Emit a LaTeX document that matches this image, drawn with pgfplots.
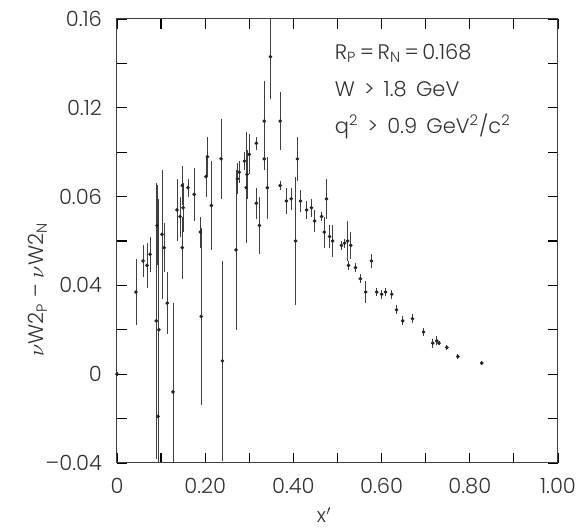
\documentclass[border=0pt]{standalone}
\usepackage{fontspec}
\IfFontExistsTF{Poppins Light}{\setmainfont{Poppins Light}}{\setmainfont{Poppins}}
\usepackage{pgfplots}
\pgfplotsset{compat=1.18}
\usepackage{pgfplotstable}

% x', nuW2p - nuW2n, error
\pgfplotstableread{
x      y       e
0.000  0.000   0.001
0.043  0.037   0.015
0.059  0.051   0.007
0.068  0.049   0.010
0.075  0.054   0.008
0.089  0.024   0.062
0.091  0.067   0.018
0.093  -0.019  0.030
0.095  0.020   0.059
0.102  0.063   0.029
0.107  0.057   0.011
0.114  0.032   0.014
0.127  -0.008  0.040
0.136  0.074   0.014
0.143  0.071   0.009
0.148  0.085   0.009
0.150  0.075   0.011
0.148  0.057   0.014
0.161  0.084   0.004
0.175  0.081   0.012
0.189  0.064   0.007
0.191  0.026   0.040
0.205  0.098   0.009
0.202  0.089   0.009
0.214  0.076   0.020
0.236  0.097   0.018
0.239  0.006   0.045
0.270  0.056   0.036
0.273  0.088   0.007
0.277  0.091   0.005
0.289  0.096   0.004
0.300  0.099   0.009
0.295  0.090   0.011
0.293  0.084   0.025
0.316  0.104   0.003
0.316  0.077   0.007
0.323  0.067   0.013
0.334  0.114   0.018
0.334  0.097   0.005
0.341  0.084   0.014
0.348  0.143   0.019
0.370  0.114   0.013
0.370  0.085   0.002
0.384  0.078   0.006
0.395  0.079   0.005
0.405  0.060   0.029
0.409  0.097   0.010
0.416  0.078   0.005
0.430  0.074   0.004
0.441  0.075   0.004
0.448  0.069   0.005
0.464  0.071   0.002
0.470  0.064   0.007
0.475  0.079   0.009
0.482  0.062   0.005
0.489  0.060   0.007
0.509  0.058   0.002
0.516  0.059   0.002
0.523  0.060   0.009
0.530  0.058   0.006
0.525  0.049   0.002
0.541  0.048   0.002
0.552  0.043   0.002
0.564  0.037   0.005
0.577  0.051   0.003
0.589  0.037   0.002
0.600  0.036   0.002
0.609  0.037   0.002
0.623  0.036   0.002
0.634  0.029   0.002
0.648  0.024   0.002
0.670  0.025   0.002
0.695  0.019   0.002
0.716  0.014   0.002
0.725  0.015   0.002
0.730  0.014   0.001
0.748  0.012   0.001
0.773  0.008   0.001
0.827  0.005   0.001
}\datatable

\begin{document}
\begin{tikzpicture}
\begin{axis}[
    scale only axis,
    width=220.5pt, height=222pt,
    xmin=0, xmax=1, ymin=-0.04, ymax=0.16,
    xtick={0,0.2,0.4,0.6,0.8,1},
    xticklabels={0,0.20,0.40,0.60,0.80,1.00},
    minor xtick={0.1,0.3,0.5,0.7,0.9},
    ytick={-0.04,0,0.04,0.08,0.12,0.16},
    yticklabels={–0.04,0,0.04,0.06,0.12,0.16},
    minor ytick={-0.02,0.02,0.06,0.10,0.14},
    xtick pos=both, ytick pos=both,
    xtick align=inside, ytick align=inside,
    xmajorticks=true, ymajorticks=true, xminorticks=true, yminorticks=true,
    major tick length=5pt, minor tick length=5pt,
    tick style={draw=black, line width=0.6pt},
    axis line style={black!75, line width=0.5pt},
    tick label style={font=\fontsize{10.5}{12}\selectfont, text=black!80},
    xticklabel style={yshift=-4pt},
    yticklabel style={xshift=-4pt},
    xlabel={x$'$},
    xlabel style={at={(axis description cs:0.47,-0.117)}, anchor=center,
        font=\fontsize{10}{12}\selectfont, text=black!80},
    ylabel={$\nu$W2\textsubscript{P} -- $\nu$W2\textsubscript{N}},
    ylabel style={at={(axis description cs:-0.18,0.39)}, anchor=center,
        rotate=0, font=\fontsize{10.5}{12}\selectfont, text=black!80},
]
\addplot[only marks, mark=*, mark size=0.7pt, black!85,
    error bars/.cd, y dir=both, y explicit, error mark=none,
    error bar style={line width=0.4pt, black!75}]
    table[x=x, y=y, y error=e] {\datatable};
\node[anchor=north west, align=left, text=black!80,
    font=\fontsize{10.5}{18.5}\selectfont] at (axis cs:0.478,0.152)
    {R\textsubscript{P}\,=\,R\textsubscript{N}\,=\,0.168\\
     W \,>\, 1.8 \,GeV\\
     q\textsuperscript{2} \,>\, 0.9 \,GeV\textsuperscript{2}/c\textsuperscript{2}};
\end{axis}
\pgfresetboundingbox
\path[use as bounding box] ([xshift=-58.5pt,yshift=-33pt]current axis.south west)
    rectangle ([xshift=13.5pt,yshift=9.5pt]current axis.north east);
\end{tikzpicture}
\end{document}
